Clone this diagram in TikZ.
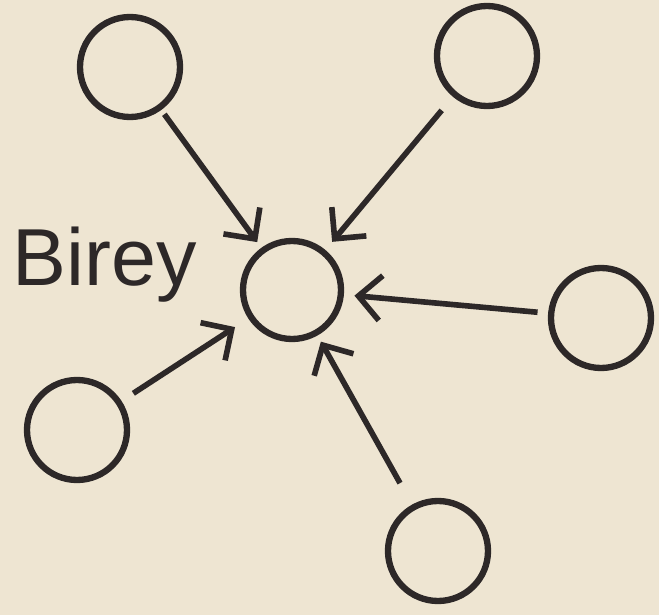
\documentclass[tikz,border=0pt]{standalone}
\usepackage{fontspec}
\setmainfont{Liberation Sans}
\usetikzlibrary{arrows.meta}
\definecolor{paper}{RGB}{238,229,210}
\definecolor{ink}{RGB}{45,40,40}
\begin{document}
\begin{tikzpicture}[>={Straight Barb[length=4.5mm,width=9mm]}, line width=3.6pt, draw=ink]
        % Hintergrund
        \fill[paper] (0,0) rectangle (13.18,-12.30);
        \useasboundingbox (0,0) rectangle (13.18,-12.30);

        % Knoten
        \node[draw=ink, circle, minimum size=1.96cm, inner sep=0pt] (ich) at (5.84,-5.80) {};
        \node[draw=ink, circle, minimum size=2cm, inner sep=0pt] (a) at (2.60,-1.34) {};
        \node[draw=ink, circle, minimum size=2cm, inner sep=0pt] (b) at (9.74,-1.12) {};
        \node[draw=ink, circle, minimum size=2cm, inner sep=0pt] (c) at (12.02,-6.36) {};
        \node[draw=ink, circle, minimum size=2cm, inner sep=0pt] (d) at (1.54,-8.60) {};
        \node[draw=ink, circle, minimum size=2cm, inner sep=0pt] (e) at (8.76,-11.02) {};
        \node[text=ink, font=\fontsize{46}{50}\selectfont] (birey) at (2.10,-5.30) {Birey};

        % Pfeile zur Mitte
        \draw[->, ink, line width=3.2pt, shorten <=3pt, shorten >=4pt] (a) -- (ich);
        \draw[->, ink, line width=3.2pt, shorten <=10pt, shorten >=6pt] (b) -- (ich);
        \draw[->, ink, line width=3.2pt, shorten <=6pt, shorten >=6pt] (c) -- (ich);
        \draw[->, ink, line width=3.2pt, shorten <=8pt, shorten >=9pt] (d) -- (ich);
        \draw[->, ink, line width=3.2pt, shorten <=14pt, shorten >=4pt] (e) -- (ich);
    \end{tikzpicture}
\end{document}
